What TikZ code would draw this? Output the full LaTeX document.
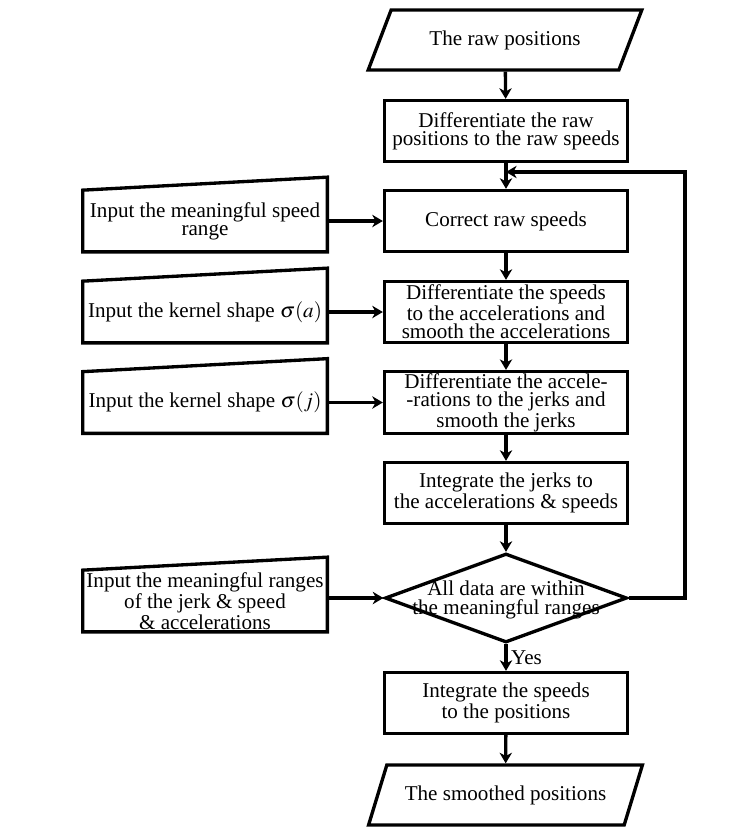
\documentclass[tikz,border=0pt]{standalone}
\usepackage{mathptmx}
\usepackage{fontspec}
\setmainfont{Liberation Serif}
\usetikzlibrary{shapes.geometric}
\usetikzlibrary{arrows.meta}
\tikzset{every node/.style={font=\fontsize{12}{10.3}\selectfont, align=center},
 line/.style={draw, line width=1.9pt, line join=miter},
 proc/.style={line, minimum width=4.86cm, minimum height=1.22cm, inner sep=1pt},
 io/.style={line, trapezium, trapezium left angle=62, trapezium right angle=118,
   trapezium stretches=true, minimum width=5.48cm, minimum height=1.2cm},
 inbox/.style={minimum width=4.88cm, minimum height=1.22cm, inner sep=1pt},
 dec/.style={line, diamond, inner sep=0pt, minimum width=4.84cm, minimum height=1.78cm},
 arr/.style={line, -{Stealth[length=6pt,width=7pt,inset=1.8pt]}},
 }

\begin{document}
\begin{tikzpicture}[x=0.02cm, y=-0.02cm]
        \useasboundingbox (0,0) rectangle (745,835);
        \node[io] (rawpos) at (505,40) {The raw positions};
        \node[proc] (diff) at (506,131) {Differentiate the raw\\positions to the raw speeds};
        \node[proc] (corr) at (506,221) {Correct raw speeds};
        \node[proc] (accel) at (506,312) {Differentiate the speeds\\to the accelerations and\\smooth the accelerations};
        \node[proc] (jerk) at (506,402.5) {Differentiate the accele-\\-rations to the jerks and\\smooth the jerks};
        \node[proc] (integ) at (506,493) {Integrate the jerks to\\the accelerations \& speeds};
        \node[dec, label={[align=center, yshift=-0.04cm]center:All data are within\\the meaningful ranges}] (check) at (506,598) {};
        \node[proc] (pos) at (506,703) {Integrate the speeds\\to the positions};
        \node[io] (smooth) at (505.5,795) {The smoothed positions};

        \node[inbox] (speedin) at (205,221) {Input the meaningful speed\\range};
        \node[inbox] (kernela) at (205,312) {Input the kernel shape $\sigma(a)$};
        \node[inbox] (kernelj) at (205,402.5) {Input the kernel shape $\sigma(j)$};
        \node[inbox] (rangein) at (205,601) {Input the meaningful ranges\\of the jerk \& speed\\\& accelerations};
        \foreach \n in {speedin, kernela, kernelj, rangein}
            \draw[line] (\n.south west) -- (\n.north west) -- ([yshift=0.26cm]\n.north east) -- (\n.south east) -- cycle;

        \coordinate (back) at (506,172);
        \coordinate (loopx) at (685,0);

        \draw[arr] (rawpos) -- (diff);
        \draw[arr] (diff) -- (corr);
        \draw[arr] (corr) -- (accel);
        \draw[arr] (accel) -- (jerk);
        \draw[arr] (jerk) -- (integ);
        \draw[arr] (integ) -- (check);
        \draw[arr] (check) -- node[right, inner sep=2pt] {Yes} (pos);
        \draw[arr] (pos) -- (smooth);
        \draw[arr] (check.east) -- (check.east -| loopx) |- (back);

        \draw[arr] (speedin.east |- corr.west) -- (corr.west);
        \draw[arr] (kernela.east |- accel.west) -- (accel.west);
        \draw[arr] (kernelj.east |- jerk.west) -- (jerk.west);
        \draw[arr] (rangein.east |- check.west) -- (check.west);
    \end{tikzpicture}
\end{document}
